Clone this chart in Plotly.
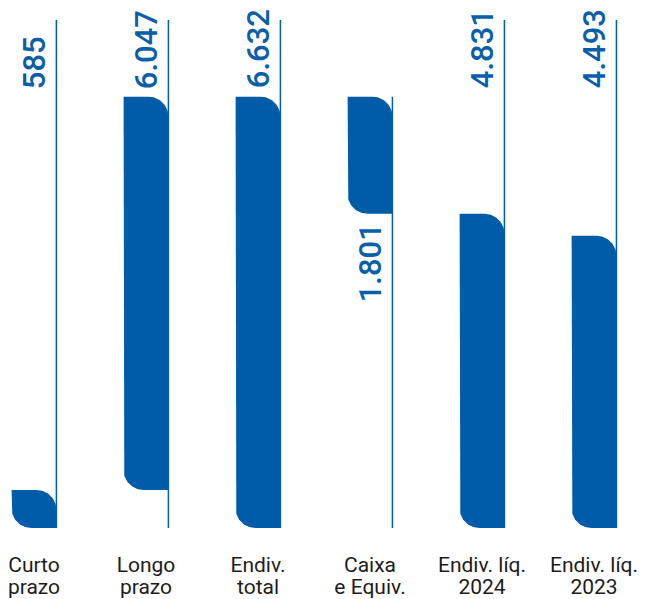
import math
import plotly.graph_objects as go

# ---- data ----
categories_line1 = ["Curto", "Longo", "Endiv.", "Caixa", "Endiv. líq.", "Endiv. líq."]
categories_line2 = ["prazo", "prazo", "total", "e Equiv.", "2024", "2023"]
values = [585, 6047, 6632, 1801, 4831, 4493]
measures = ["relative", "relative", "total", "decrease", "total", "absolute"]

# ---- style / layout constants ----
W, H = 638, 591          # page body adds an 8px offset
M_L, M_R, M_T, M_B = 0, 0, 0, 69
X_RANGE = [-0.232, 5.464]
Y_MAX = 7995
LINE_TOP = 7811
BAR_HALF = 0.2          # in category units
CORNER_PX = 20
BLUE = "#005CA9"
TEXT_BLUE = "#0B5EA8"
DARK = "#1c1c1c"

plot_w = W - M_L - M_R
plot_h = H - M_T - M_B
rx = CORNER_PX * (X_RANGE[1] - X_RANGE[0]) / plot_w
ry = CORNER_PX * Y_MAX / plot_h

# compute waterfall bases / tops
bases, tops = [], []
running = 0
for v, m in zip(values, measures):
    if m == "relative":
        b, t = running, running + v
        running = t
    elif m == "decrease":
        b, t = running - v, running
        running = b
    elif m == "total":
        b, t = 0, running
    else:  # absolute
        b, t = 0, v
    bases.append(b)
    tops.append(t)

xs = list(range(len(values)))


def leaf(xc, y0, y1, n=24):
    x0, x1 = xc - BAR_HALF, xc + BAR_HALF
    px, py = [], []
    px += [x0 + rx, x1]
    py += [y0, y0]
    px.append(x1); py.append(y1 - ry)
    cx, cy = x1 - rx, y1 - ry
    for k in range(n + 1):
        a = math.pi / 2 * k / n
        px.append(cx + rx * math.cos(a)); py.append(cy + ry * math.sin(a))
    px.append(x0); py.append(y1)
    px.append(x0); py.append(y0 + ry)
    cx, cy = x0 + rx, y0 + ry
    for k in range(n + 1):
        a = math.pi + math.pi / 2 * k / n
        px.append(cx + rx * math.cos(a)); py.append(cy + ry * math.sin(a))
    return px, py


fig = go.Figure()

# vertical guide lines
for x, b, t, m in zip(xs, bases, tops, measures):
    ytop = t if m == "decrease" else LINE_TOP
    fig.add_trace(go.Scatter(
        x=[x + BAR_HALF, x + BAR_HALF], y=[0, ytop], mode="lines",
        line=dict(color=BLUE, width=1.5), hoverinfo="skip", showlegend=False))

# bars
for x, b, t in zip(xs, bases, tops):
    px, py = leaf(x, b, t)
    fig.add_trace(go.Scatter(
        x=px, y=py, mode="lines", fill="toself", fillcolor=BLUE,
        line=dict(color=BLUE, width=0), hoverinfo="skip", showlegend=False))

# invisible trace for second x axis (second line of category labels)
fig.add_trace(go.Scatter(x=xs, y=[0] * len(xs), xaxis="x2", mode="markers",
                         marker=dict(opacity=0), hoverinfo="skip", showlegend=False))

# value labels
grand = max(tops)
for x, v, b, m in zip(xs, values, bases, measures):
    txt = f"{v:,}".replace(",", ".")
    if m == "decrease":
        y, ya, ys = b, "top", -8
    else:
        y, ya, ys = grand, "bottom", 6
    fig.add_annotation(x=x, y=y, text=txt, textangle=-90, showarrow=False,
                       xanchor="center", yanchor=ya, yshift=ys,
                       font=dict(family="Roboto", size=31, color=TEXT_BLUE, weight=500))

axis_common = dict(range=X_RANGE, showgrid=False, zeroline=False, showline=False,
                   ticks="", tickmode="array", tickvals=xs, ticklabeloverflow="allow",
                   tickfont=dict(family="Roboto", size=21, color=DARK))

fig.update_layout(
    width=W, height=H,
    margin=dict(l=M_L, r=M_R, t=M_T, b=M_B),
    paper_bgcolor="white", plot_bgcolor="white",
    xaxis=dict(**axis_common, ticktext=categories_line1, ticklabelstandoff=22),
    xaxis2=dict(**axis_common, ticktext=categories_line2, ticklabelstandoff=44,
                overlaying="x", anchor="y", side="bottom"),
    yaxis=dict(range=[0, Y_MAX], visible=False),
    showlegend=False,
)

fig.write_html("out.html")
